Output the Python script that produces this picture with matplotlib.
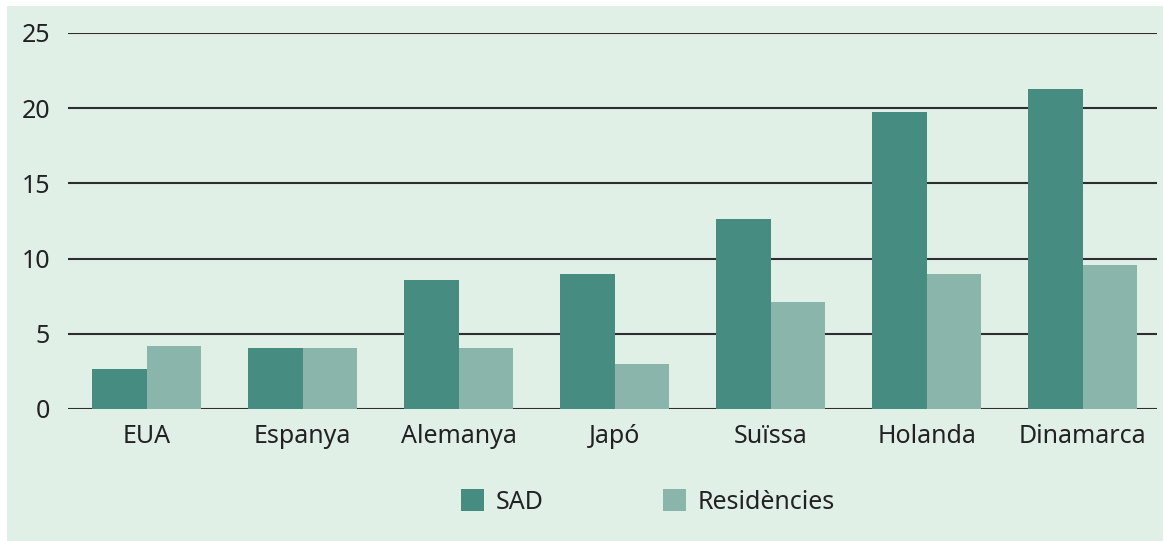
import matplotlib.pyplot as plt
import matplotlib.patches as mpatches
import numpy as np

paisos = ['EUA', 'Espanya', 'Alemanya', 'Japó', 'Suïssa', 'Holanda', 'Dinamarca']
sad = [2.65, 4.05, 8.6, 9.0, 12.6, 19.75, 21.3]
residencies = [4.2, 4.05, 4.05, 3.0, 7.1, 9.0, 9.6]
yticks = [0, 5, 10, 15, 20, 25]

c_sad = '#468c80'
c_res = '#89b5ab'
fons = '#e1f0e6'

plt.rcParams['font.family'] = ['Noto Sans', 'DejaVu Sans']

fig = plt.figure(figsize=(11.63, 5.41), dpi=100)
fig.patch.set_facecolor('white')
fig.patches.append(mpatches.Rectangle((7 / 1163, 0), 1 - 7 / 1163, 1 - 6 / 541,
                                      transform=fig.transFigure, facecolor=fons,
                                      edgecolor='none', zorder=-10))

ax = fig.add_axes([68 / 1163, 1 - 409 / 541, (1157 - 68) / 1163, (409 - 33) / 541])
ax.set_facecolor('none')

x = np.arange(len(paisos))
w = 0.35
ax.bar(x - w / 2, sad, w, color=c_sad, label='SAD', zorder=3)
ax.bar(x + w / 2, residencies, w, color=c_res, label='Residències', zorder=3)

ax.set_xlim(-0.505, 6.475)
ax.set_ylim(0, 25)
ax.set_yticks(yticks)
for t in yticks:
    ax.axhline(t, color='#2e2e2e', lw=1.5, zorder=2)

ax.set_xticks(x)
ax.set_xticklabels(paisos)
ax.tick_params(axis='both', length=0, labelsize=18, colors='#222222')
ax.tick_params(axis='y', pad=13)
ax.tick_params(axis='x', pad=11)
for s in ax.spines.values():
    s.set_visible(False)

fig.legend(loc='center', bbox_to_anchor=(648 / 1163, 1 - 502 / 541), ncol=2,
           frameon=False, fontsize=18, handlelength=0.92, handleheight=0.92,
           handletextpad=0.45, columnspacing=4.8, labelcolor='#222222')

fig.savefig('out.png', dpi=100, facecolor=fig.get_facecolor())
